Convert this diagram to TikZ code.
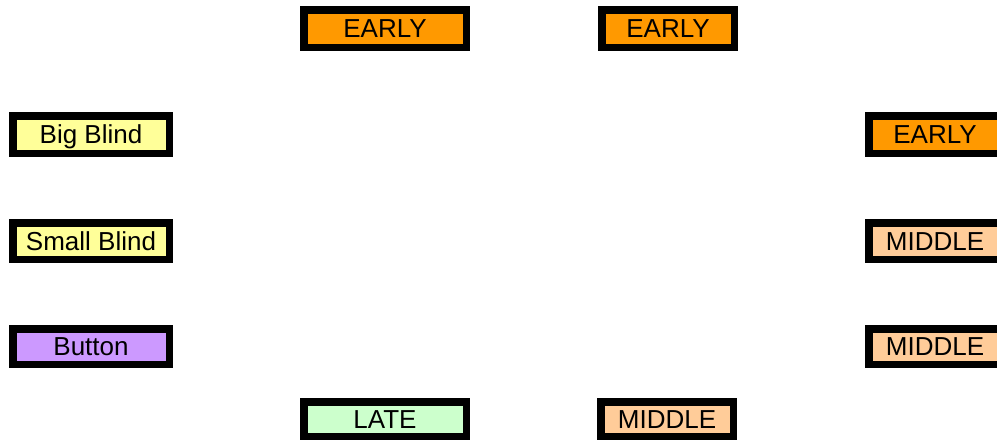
\documentclass[tikz,border=0pt]{standalone}
\usepackage{fontspec}
\setmainfont{Liberation Sans}
\definecolor{cEarly}{HTML}{FF9900}
\definecolor{cBlind}{HTML}{FFFF99}
\definecolor{cButton}{HTML}{CC99FF}
\definecolor{cMiddle}{HTML}{FFCC99}
\definecolor{cLate}{HTML}{CCFFCC}
\tikzset{
  seat/.style={draw=black, line width=7.5pt, inner sep=0pt, font=\fontsize{26}{28}\selectfont, text=black, text height=18.6pt, text depth=0pt},
}
\begin{document}
\begin{tikzpicture}[x=1pt,y=-1pt]
\useasboundingbox (0,0) rectangle (997,440);
\clip (0,0) rectangle (997,440);
\node[seat, fill=cEarly, minimum width=162.5pt, minimum height=37.5pt] (e1) at (385,28.5) {EARLY};
\node[seat, fill=cEarly, minimum width=132.5pt, minimum height=37.5pt] (e2) at (668,28.5) {EARLY};
\node[seat, fill=cBlind, minimum width=156.5pt, minimum height=37.5pt] (bb) at (91,134.5) {Big Blind};
\node[seat, fill=cBlind, minimum width=156.5pt, minimum height=36.5pt] (sb) at (91,241) {Small Blind};
\node[seat, fill=cButton, minimum width=156.5pt, minimum height=35.5pt] (bt) at (91,346.5) {Button};
\node[seat, fill=cEarly, minimum width=132.5pt, minimum height=37.5pt] (re) at (935,134.5) {EARLY};
\node[seat, fill=cMiddle, minimum width=132.5pt, minimum height=36.5pt] (rm1) at (935,241) {MIDDLE};
\node[seat, fill=cMiddle, minimum width=132.5pt, minimum height=35.5pt] (rm2) at (935,346.5) {MIDDLE};
\node[seat, fill=cLate, minimum width=162.5pt, minimum height=34.5pt] (late) at (385,419) {LATE};
\node[seat, fill=cMiddle, minimum width=132.5pt, minimum height=34.5pt] (bm) at (667,419) {MIDDLE};
\end{tikzpicture}
\end{document}
